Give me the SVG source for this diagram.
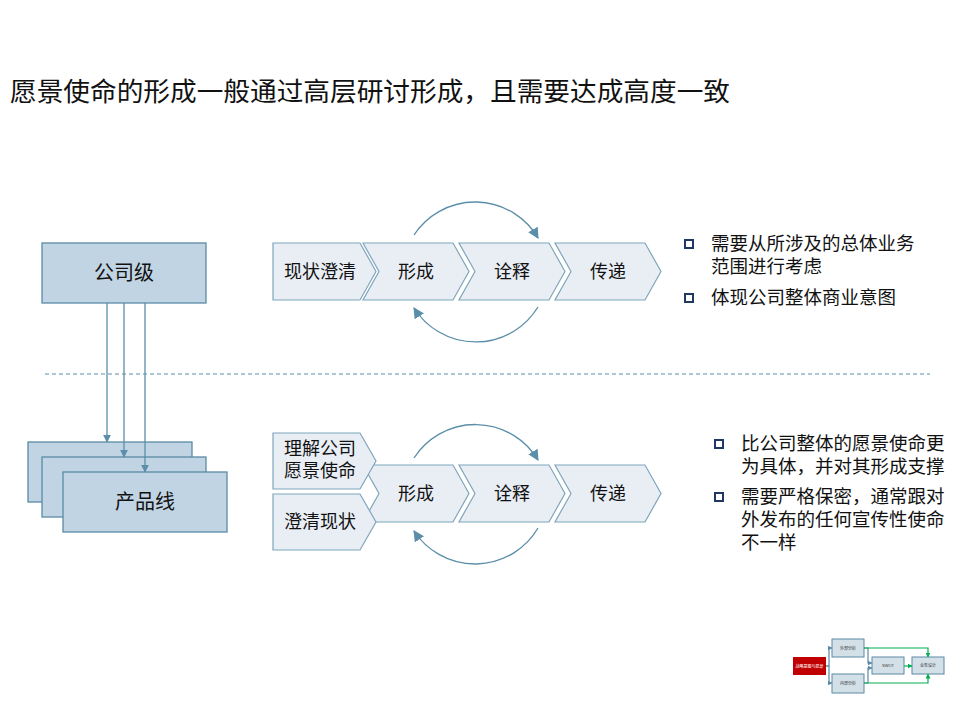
<svg xmlns="http://www.w3.org/2000/svg" width="960" height="720" viewBox="0 0 960 720">
<defs>
<style>
text{font-family:"Liberation Sans","Noto Sans CJK SC",sans-serif;fill:#111;}
.t{font-size:26px;}
.big{font-size:20px;text-anchor:middle;dominant-baseline:central;}
.chv{fill:#e9eef5;stroke:#7fa5bc;stroke-width:1.2;}
.chvt{font-size:18px;text-anchor:middle;dominant-baseline:central;}
.box{fill:#c1d4e4;stroke:#5b8aa5;stroke-width:1.3;}
.con{fill:none;stroke:#5b8ea8;stroke-width:1.3;}
.bul{font-size:18.5px;}
.sq{fill:none;stroke:#1f3864;stroke-width:2;}
.tb{fill:#d4e0e8;stroke:#5b8aa5;stroke-width:1;}
.tt{font-size:4px;text-anchor:middle;dominant-baseline:central;fill:#333;}
.g{fill:none;stroke:#00b050;stroke-width:1.2;}
.bl{fill:none;stroke:#5b8aa5;stroke-width:1.2;}
</style>
<marker id="ah" viewBox="0 0 10 10" refX="9" refY="5" markerWidth="8" markerHeight="8" markerUnits="userSpaceOnUse" orient="auto"><path d="M0,0L10,5L0,10z" fill="#5b8ea8"/></marker>
<marker id="ah2" viewBox="0 0 10 10" refX="9" refY="5" markerWidth="11" markerHeight="11" markerUnits="userSpaceOnUse" orient="auto"><path d="M0,0L10,5L0,10z" fill="#5b8ea8"/></marker>
<marker id="gs" viewBox="0 0 10 10" refX="9" refY="5" markerWidth="5" markerHeight="5" markerUnits="userSpaceOnUse" orient="auto"><path d="M0,0L10,5L0,10z" fill="#00b050"/></marker>
<marker id="bs" viewBox="0 0 10 10" refX="9" refY="5" markerWidth="5" markerHeight="5" markerUnits="userSpaceOnUse" orient="auto"><path d="M0,0L10,5L0,10z" fill="#5b8aa5"/></marker>
</defs>
<rect width="960" height="720" fill="#fff"/>
<text class="t" x="10" y="101" textLength="720" lengthAdjust="spacingAndGlyphs">愿景使命的形成一般通过高层研讨形成，且需要达成高度一致</text>

<line x1="45" y1="374" x2="930" y2="374" stroke="#5b8ea8" stroke-width="1" stroke-dasharray="4,3"/>

<g id="company"><rect class="box" x="42" y="243" width="164" height="60"/><text class="big" x="124" y="273">公司级</text></g>
<g id="productline">
<rect class="box" x="28" y="442" width="164" height="60"/>
<rect class="box" x="42" y="457" width="164" height="60"/>
<rect class="box" x="63" y="472" width="164" height="60"/>
<text class="big" x="145" y="502">产品线</text>
</g>

<g id="top-row">
<g id="t1"><path class="chv" d="M273,243H360L376,271.5L360,300H273Z"/><text class="chvt" x="320" y="271.5">现状澄清</text></g>
<g id="t2"><path class="chv" d="M363,243H453L469,271.5L453,300H363L379,271.5Z"/><text class="chvt" x="416" y="271.5">形成</text></g>
<g id="t3"><path class="chv" d="M459,243H549L565,271.5L549,300H459L475,271.5Z"/><text class="chvt" x="512" y="271.5">诠释</text></g>
<g id="t4"><path class="chv" d="M555,243H645L661,271.5L645,300H555L571,271.5Z"/><text class="chvt" x="608" y="271.5">传递</text></g>
</g>

<g id="bottom-row">
<g id="b2"><path class="chv" d="M363,465H453L469,493.5L453,522H363L379,493.5Z"/><text class="chvt" x="416" y="493.5">形成</text></g>
<g id="b3"><path class="chv" d="M459,465H549L565,493.5L549,522H459L475,493.5Z"/><text class="chvt" x="512" y="493.5">诠释</text></g>
<g id="b4"><path class="chv" d="M555,465H645L661,493.5L645,522H555L571,493.5Z"/><text class="chvt" x="608" y="493.5">传递</text></g>
<g id="b1a"><path class="chv" d="M273,433H360L376,461L360,489H273Z"/><text class="chvt" x="320" y="449">理解公司</text><text class="chvt" x="320" y="471">愿景使命</text></g>
<g id="b1b"><path class="chv" d="M273,494H360L376,522L360,550H273Z"/><text class="chvt" x="320" y="522">澄清现状</text></g>
</g>

<g id="connectors">
<line class="con" x1="107" y1="303" x2="107" y2="442" marker-end="url(#ah)"/>
<line class="con" x1="124" y1="303" x2="124" y2="457" marker-end="url(#ah)"/>
<line class="con" x1="145" y1="303" x2="145" y2="472" marker-end="url(#ah)"/>
<path class="con" d="M414,235A73,73 0 0 1 538,238" marker-end="url(#ah2)"/>
<path class="con" d="M538,307A73,73 0 0 1 414,308" marker-end="url(#ah2)"/>
<path class="con" d="M414,458A73,73 0 0 1 538,460" marker-end="url(#ah2)"/>
<path class="con" d="M538,528A73,73 0 0 1 414,531" marker-end="url(#ah2)"/>
</g>

<g id="bullets-top">
<rect class="sq" x="685" y="240" width="8" height="8"/>
<text class="bul" x="711" y="250">需要从所涉及的总体业务</text>
<text class="bul" x="711" y="273">范围进行考虑</text>
<rect class="sq" x="685" y="294" width="8" height="8"/>
<text class="bul" x="711" y="304">体现公司整体商业意图</text>
</g>
<g id="bullets-bottom">
<rect class="sq" x="715" y="440" width="8" height="8"/>
<text class="bul" x="741" y="450">比公司整体的愿景使命更</text>
<text class="bul" x="741" y="473">为具体，并对其形成支撑</text>
<rect class="sq" x="715" y="493" width="8" height="8"/>
<text class="bul" x="741" y="503">需要严格保密，通常跟对</text>
<text class="bul" x="741" y="526">外发布的任何宣传性使命</text>
<text class="bul" x="741" y="549">不一样</text>
</g>

<g id="thumbnail">
<g id="th-red"><rect x="793" y="657" width="33" height="18" fill="#c00000"/><text class="tt" x="809.5" y="666" style="fill:#fff">战略意图与愿景</text></g>
<g id="th-ext"><rect class="tb" x="832" y="639" width="32" height="18"/><text class="tt" x="848" y="648">外部分析</text></g>
<g id="th-int"><rect class="tb" x="832" y="674" width="32" height="19"/><text class="tt" x="848" y="683.5">内部分析</text></g>
<g id="th-swot"><rect class="tb" x="872" y="657" width="32" height="17"/><text class="tt" x="888" y="665.5">SWOT</text></g>
<g id="th-design"><rect class="tb" x="912" y="657" width="32" height="17"/><text class="tt" x="928" y="665.5">业务设计</text></g>
<g id="th-connectors">
<path class="bl" d="M826,666H829V648H832" marker-end="url(#bs)"/>
<path class="bl" d="M826,666H829V683H832" marker-end="url(#bs)"/>
<path class="bl" d="M864,648H868V663H872" marker-end="url(#bs)"/>
<path class="bl" d="M864,683H868V668H872" marker-end="url(#bs)"/>
<path class="g" d="M864,648H928V657" marker-end="url(#gs)"/>
<path class="g" d="M864,683H928V674" marker-end="url(#gs)"/>
<path class="g" d="M904,666H912" marker-end="url(#gs)"/>
</g>
</g>
</svg>
